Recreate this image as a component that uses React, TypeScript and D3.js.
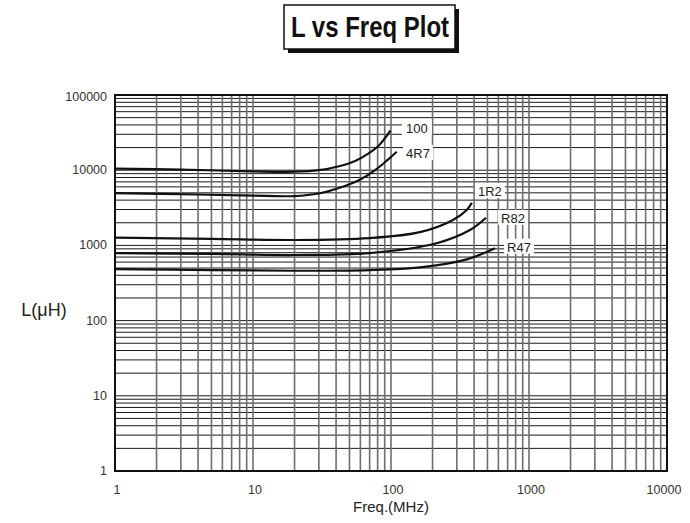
import React from "react";
import * as d3 from "d3";

const W = 690;
const H = 523;

const xTicks = [1, 10, 100, 1000, 10000];
const yTicks = [1, 10, 100, 1000, 10000, 100000];
const xTickLabels = ["1", "10", "100", "1000", "10000"];
const yTickLabels = ["1", "10", "100", "1000", "10000", "100000"];

const seriesNames = ["100", "4R7", "1R2", "R82", "R47"];

const s100: [number, number][] = [
  [1, 10500], [3, 10200], [10, 9650], [20, 9550], [30, 10000], [42, 11300],
  [55, 13300], [68, 16500], [82, 21500], [99, 33500],
];
const s4R7: [number, number][] = [
  [1, 4970], [4, 4750], [10, 4580], [20, 4530], [30, 4900], [42, 5800],
  [58, 7300], [76, 9890], [95, 13800], [110, 17600],
];
const s1R2: [number, number][] = [
  [1, 1265], [5, 1220], [20, 1180], [70, 1250], [162, 1500], [281, 2180],
  [354, 2960], [385, 3700],
];
const sR82: [number, number][] = [
  [1, 790], [5, 770], [20, 745], [70, 790], [214, 1067], [373, 1600], [488, 2335],
];
const sR47: [number, number][] = [
  [1, 485], [5, 470], [20, 460], [70, 470], [162, 511], [354, 653], [567, 915],
];
const seriesData = [s100, s4R7, s1R2, sR82, sR47];

// label anchor points (freq, L)
const labelFreq = [154, 157, 521, 766, 847];
const labelL = [36400, 17000, 5300, 2330, 960];

export default function App() {
  const left = 115, right = 667, top = 95, bottom = 471;
  const x = d3.scaleLog().domain([1, 10000]).range([left, right]);
  const y = d3.scaleLog().domain([1, 100000]).range([bottom, top]);

  const vLines: number[] = [];
  for (let d = 1; d < 10000; d *= 10) for (let k = 2; k <= 10; k++) vLines.push(d * k);
  const hLines: number[] = [];
  for (let d = 1; d < 100000; d *= 10) for (let k = 2; k <= 10; k++) hLines.push(d * k);

  const line = d3
    .line<[number, number]>()
    .x((d) => x(d[0]))
    .y((d) => y(d[1]))
    .curve(d3.curveCatmullRom.alpha(0.5));

  const font = "'Liberation Sans', Arial, sans-serif";

  return (
    <svg width={W} height={H} style={{ position: "absolute", left: 0, top: 0, background: "#fff" }}>
      {/* Title */}
      <rect x={288} y={9} width={171} height={44} fill="#111" />
      <rect x={284} y={5} width={171} height={44} fill="#fff" stroke="#111" strokeWidth={1.5} />
      <text
        x={291}
        y={37}
        textAnchor="start"
        textLength={158}
        lengthAdjust="spacingAndGlyphs"
        fontFamily="'Liberation Sans', Arial, sans-serif"
        fontWeight="bold"
        fontSize={30}
        fill="#111"
      >
        L vs Freq Plot
      </text>

      {/* grid */}
      {hLines.map((v, i) => (
        <line key={"h" + i} x1={left} x2={right} y1={y(v)} y2={y(v)} stroke="#1a1a1a" strokeWidth={1} />
      ))}
      {vLines.map((v, i) => (
        <line key={"v" + i} x1={x(v)} x2={x(v)} y1={top} y2={bottom} stroke="#6e6e6e" strokeWidth={1.6} />
      ))}
      <rect x={left} y={top} width={right - left} height={bottom - top} fill="none" stroke="#111" strokeWidth={2} />

      {/* curves */}
      {seriesData.map((s, i) => (
        <path key={"s" + i} d={line(s) || ""} fill="none" stroke="#111" strokeWidth={2.2} />
      ))}

      {/* labels */}
      {seriesNames.map((n, i) => {
        const cx = x(labelFreq[i]);
        const cy = y(labelL[i]);
        return (
          <g key={"l" + i}>
            <rect x={cx - 15} y={cy - 8} width={30} height={15} fill="#fff" />
            <text x={cx} y={cy + 5} textAnchor="middle" fontFamily={font} fontSize={13} fill="#222">
              {n}
            </text>
          </g>
        );
      })}

      {/* tick labels */}
      {xTicks.map((t, i) => (
        <text key={"xt" + i} x={x(t) + (i === 4 ? -3 : 2)} y={494} textAnchor="middle" fontFamily={font} fontSize={12.5} fill="#333">
          {xTickLabels[i]}
        </text>
      ))}
      {yTicks.map((t, i) => (
        <text key={"yt" + i} x={107} y={y(t) + 4 + (i === 5 ? 2 : 0)} textAnchor="end" fontFamily={font} fontSize={12.5} fill="#333">
          {yTickLabels[i]}
        </text>
      ))}

      {/* axis titles */}
      <text x={391} y={512} textAnchor="middle" fontFamily={font} fontSize={15} fill="#222">
        Freq.(MHz)
      </text>
      <text x={44} y={316} textAnchor="middle" fontFamily={font} fontSize={18} fill="#222">
        L(μH)
      </text>
    </svg>
  );
}
